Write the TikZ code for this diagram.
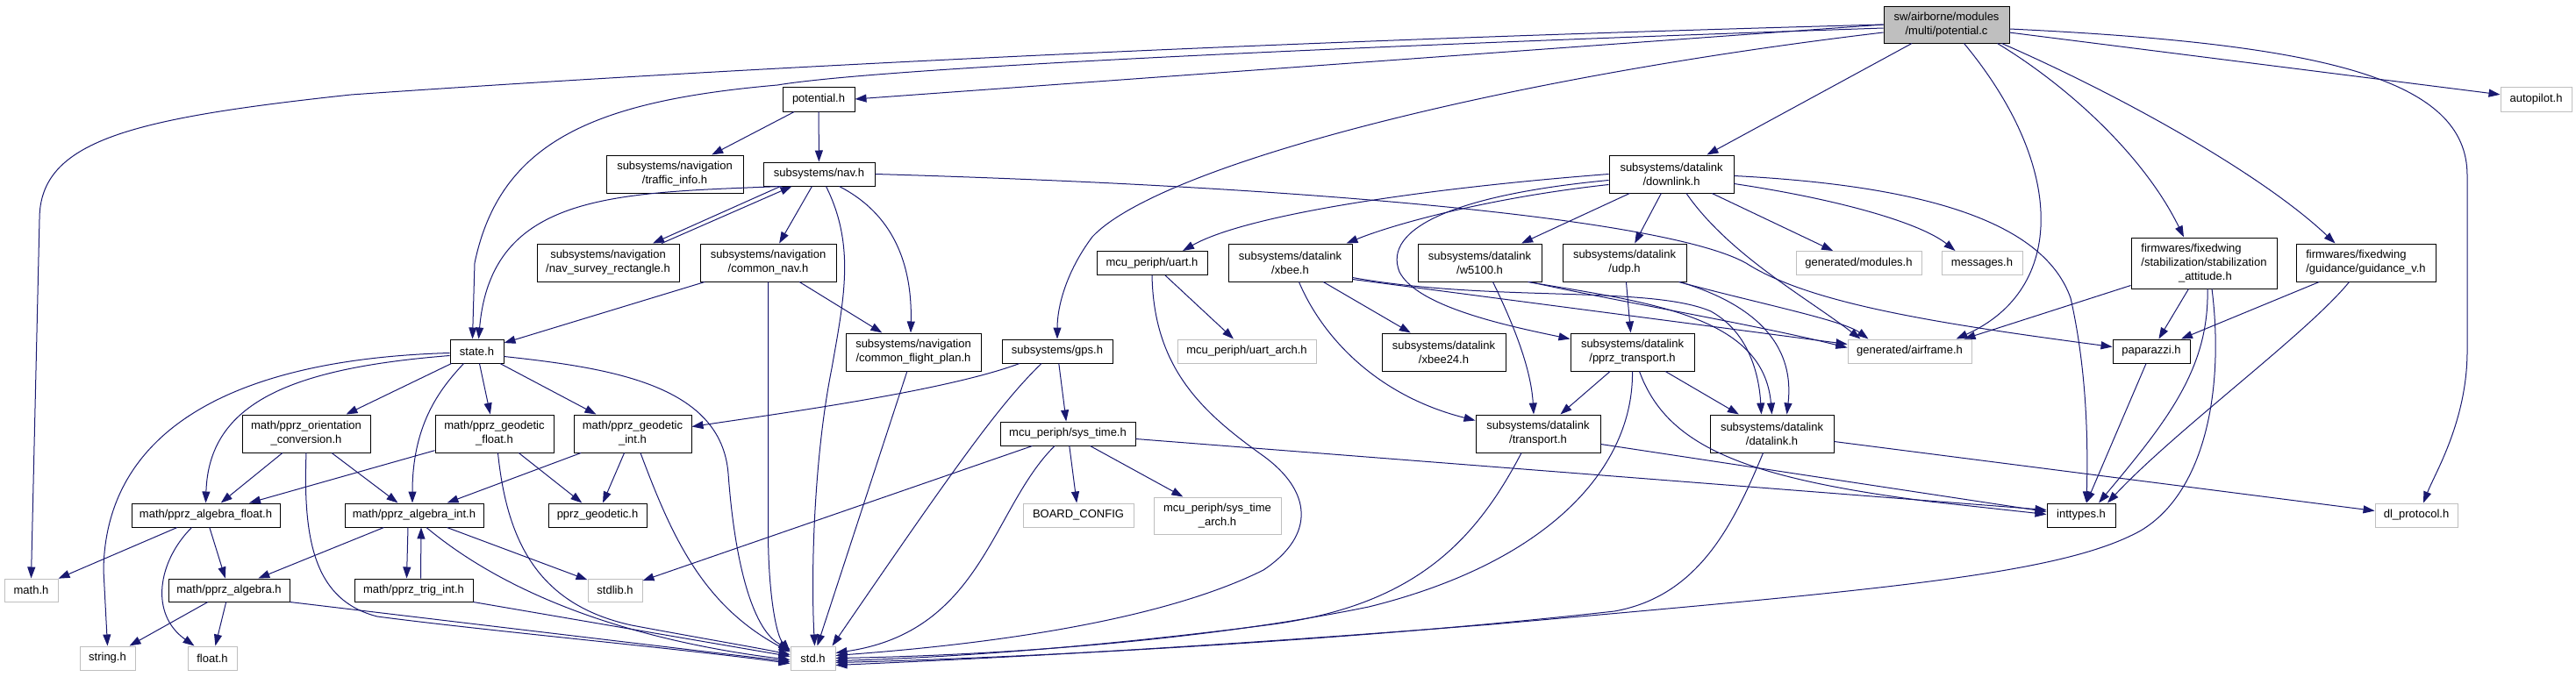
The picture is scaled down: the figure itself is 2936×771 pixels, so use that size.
\documentclass[tikz,border=0pt]{standalone}
\usepackage{fontspec}
\newfontfamily\dfont{Liberation Sans}
\usetikzlibrary{arrows.meta,calc}
\definecolor{edgec}{HTML}{191970}
\definecolor{gbord}{HTML}{BFBFBF}
\tikzset{
  box/.style 2 args={draw=black, line width=0.75pt, fill=white, minimum width=#1*0.75pt, minimum height=#2*0.75pt, inner sep=0pt, align=center, font=\dfont\fontsize{9.75pt}{12pt}\selectfont},
  gbox/.style 2 args={box={#1}{#2}, draw=gbord},
  edg/.style={draw=edgec, line width=0.75pt, -{Triangle[length=9.75pt,width=6.75pt]}},
}
\begin{document}
\begin{tikzpicture}[x=0.75pt,y=-0.75pt]
\useasboundingbox (0,0) rectangle (2936,771);
% nodes
\node[box={143}{42},fill=gbord] (pc) at (2218.5,28) {sw/airborne/modules\\/multi/potential.c};
\node[box={82}{28}] (poth) at (933,113) {potential.h};
\node[gbox={81}{28}] (autop) at (2890.5,113) {autopilot.h};
\node[box={156}{43}] (traffic) at (769,198.5) {subsystems/navigation\\/traffic\_info.h};
\node[box={127}{27}] (navh) at (933.5,198.5) {subsystems/nav.h};
\node[box={142}{43}] (downl) at (1905,198.5) {subsystems/datalink\\/downlink.h};
\node[box={162}{43}] (survey) at (693,299.5) {subsystems/navigation\\/nav\_survey\_rectangle.h};
\node[box={155}{43}] (cnav) at (875.5,299.5) {subsystems/navigation\\/common\_nav.h};
\node[box={126}{27}] (uart) at (1313,300) {mcu\_periph/uart.h};
\node[box={141}{43}] (xbee) at (1470.5,299.5) {subsystems/datalink\\/xbee.h};
\node[box={141}{43}] (w51) at (1686.5,299.5) {subsystems/datalink\\/w5100.h};
\node[box={141}{43}] (udp) at (1851.5,299.5) {subsystems/datalink\\/udp.h};
\node[gbox={143}{27}] (modh) at (2118.5,300) {generated/modules.h};
\node[gbox={92}{27}] (msgh) at (2259,300) {messages.h};
\node[box={166}{58},align=left] (stab) at (2512,300) {firmwares/fixedwing\\/stabilization/stabilization\\\hspace*{31.9pt}\_attitude.h};
\node[box={159}{43},align=left] (guid) at (2696.5,299.5) {firmwares/fixedwing\\/guidance/guidance\_v.h};
\node[box={61}{27}] (state) at (543.5,400.5) {state.h};
\node[box={154}{43}] (cfp) at (1041,401.5) {subsystems/navigation\\/common\_flight\_plan.h};
\node[box={126}{27}] (gps) at (1205,400.5) {subsystems/gps.h};
\node[gbox={158}{27}] (uarch) at (1421,400.5) {mcu\_periph/uart\_arch.h};
\node[box={141}{43}] (xb24) at (1645.5,401.5) {subsystems/datalink\\/xbee24.h};
\node[box={141}{43}] (pprzt) at (1860.5,401.5) {subsystems/datalink\\/pprz\_transport.h};
\node[gbox={141}{27}] (airf) at (2176.5,400.5) {generated/airframe.h};
\node[box={88}{27}] (papa) at (2452,400.5) {paparazzi.h};
\node[box={146}{43}] (orient) at (349,494.5) {math/pprz\_orientation\\\_conversion.h};
\node[box={135}{43}] (gfloat) at (563.5,494.5) {math/pprz\_geodetic\\\_float.h};
\node[box={134}{43}] (gint) at (721,494.5) {math/pprz\_geodetic\\\_int.h};
\node[box={154}{27}] (systime) at (1217,494.5) {mcu\_periph/sys\_time.h};
\node[box={142}{43}] (transp) at (1753,494.5) {subsystems/datalink\\/transport.h};
\node[box={141}{43}] (dlink) at (2019.5,494.5) {subsystems/datalink\\/datalink.h};
\node[box={169}{27}] (afloat) at (234.5,587.5) {math/pprz\_algebra\_float.h};
\node[box={158}{27}] (aint) at (472,587.5) {math/pprz\_algebra\_int.h};
\node[box={112}{27}] (pgeo) at (681,587.5) {pprz\_geodetic.h};
\node[gbox={126}{27}] (board) at (1229,587.5) {BOARD\_CONFIG};
\node[gbox={145}{42}] (starch) at (1387.5,588) {mcu\_periph/sys\_time\\\_arch.h};
\node[box={78}{27}] (intt) at (2372,587.5) {inttypes.h};
\node[gbox={94}{27}] (dlp) at (2754,587.5) {dl\_protocol.h};
\node[gbox={61}{26}] (mathh) at (35.5,673) {math.h};
\node[box={138}{26}] (alg) at (261,673) {math/pprz\_algebra.h};
\node[box={135}{26}] (trig) at (471.5,673) {math/pprz\_trig\_int.h};
\node[gbox={62}{26}] (stdlib) at (701,673) {stdlib.h};
\node[gbox={63}{27}] (strh) at (122.5,750.5) {string.h};
\node[gbox={56}{27}] (floath) at (242,750.5) {float.h};
\node[gbox={51}{27}] (stdh) at (926.5,750.5) {std.h};
% edges from potential.c
\draw[edg] (pc.west) .. controls (1400,48) and (800,80) .. (400,108) .. controls (150,135) and (45,160) .. (45,250) -- (mathh.north);
\draw[edg] ($(pc.west)+(0,4)$) .. controls (1500,54) and (1000,78) .. (886,97) .. controls (680,115) and (570,160) .. (541,300) -- ($(state.north)+(-5,0)$);
\draw[edg] (pc.west) -- (poth.east);
\draw[edg] ($(pc.west)+(0,9)$) .. controls (1700,90) and (1320,190) .. (1245,270) .. controls (1215,310) and (1205,350) .. (gps.north);
\draw[edg] (pc) -- (downl);
\draw[edg] ($(pc.south)+(20,0)$) .. controls (2355,190) and (2355,330) .. ($(airf.north east)+(-18,0)$);
\draw[edg] ($(pc.south east)+(-14,0)$) .. controls (2360,100) and (2445,180) .. ($(stab.north)+(-23,0)$);
\draw[edg] ($(pc.south east)+(-9,0)$) .. controls (2420,110) and (2580,200) .. ($(guid.north)+(-35,0)$);
\draw[edg] (pc) -- (autop);
\draw[edg] ($(pc.east)+(0,5)$) .. controls (2650,50) and (2812,90) .. (2812,200) -- (2812,400) .. controls (2812,480) and (2775,540) .. ($(dlp.north)+(8,0)$);
% potential.h
\draw[edg] (poth) -- (traffic);
\draw[edg] (poth) -- (navh);
% nav.h
\draw[edg] ($(navh.south)+(-43,0)$) .. controls (700,220) and (560,220) .. ($(state.north)+(2,0)$);
\draw[edg] ($(navh.south)+(-44,0)$) -- ($(survey.north)+(51,0)$);
\draw[edg] ($(survey.north)+(61,0)$) -- ($(navh.south)+(-31,0)$);
\draw[edg] (navh) -- (cnav);
\draw[edg] ($(navh.south)+(8,0)$) .. controls (975,280) and (962,340) .. (948,420) .. controls (928,520) and (924,650) .. ($(stdh.north)+(2,0)$);
\draw[edg] ($(navh.south)+(23,0)$) .. controls (1010,240) and (1040,290) .. ($(cfp.north)+(-3,0)$);
\draw[edg] (navh.east) .. controls (1500,213) and (1900,250) .. (1990,300) .. controls (2060,345) and (2200,368) .. ($(papa.west)+(0,-5)$);
% common_nav
\draw[edg] (cnav) -- (state);
\draw[edg] (cnav.south) -- (875.5,610) .. controls (876,680) and (885,725) .. ($(stdh.west)+(0,-8)$);
\draw[edg] (cnav) -- (cfp);
\draw[edg] (cfp) -- ($(stdh.north)+(5,0)$);
% gps
\draw[edg] ($(gps.south)+(-43,0)$) .. controls (1080,445) and (900,470) .. ($(gint.east)+(0,-8)$);
\draw[edg] ($(gps.south)+(-18,0)$) .. controls (1140,460) and (1090,530) .. ($(stdh.north east)+(-4,0)$);
\draw[edg] (gps) -- (systime);
% sys_time
\draw[edg] (systime) -- (stdlib);
\draw[edg] ($(systime.south)+(-15,0)$) .. controls (1130,580) and (1120,720) .. ($(stdh.east)+(0,-6)$);
\draw[edg] (systime) -- (board);
\draw[edg] (systime) -- (starch);
\draw[edg] ($(systime.east)+(0,6)$) -- ($(intt.west)+(0,-6)$);
% uart
\draw[edg] (uart) -- (uarch);
\draw[edg] (uart.south) .. controls (1315,420) and (1370,470) .. (1440,520) .. controls (1495,560) and (1500,610) .. (1440,650) .. controls (1300,720) and (1050,740) .. ($(stdh.east)+(0,-3)$);
% downlink
\draw[edg] (downl.west) .. controls (1620,215) and (1420,245) .. ($(uart.north)+(35,0)$);
\draw[edg] ($(downl.west)+(0,7)$) .. controls (1660,222) and (1575,260) .. (1595,310) .. controls (1615,350) and (1720,372) .. ($(pprzt.west)+(0,-15)$);
\draw[edg] ($(downl.west)+(0,12)$) .. controls (1700,225) and (1590,255) .. ($(xbee.north)+(64,0)$);
\draw[edg] (downl) -- (w51);
\draw[edg] (downl) -- (udp);
\draw[edg] ($(downl.south)+(17,0)$) .. controls (1970,290) and (2060,340) .. ($(airf.north west)+(15,0)$);
\draw[edg] (downl) -- (modh);
\draw[edg] ($(downl.east)+(0,2)$) .. controls (2200,212) and (2330,255) .. (2360,340) .. controls (2378,420) and (2380,500) .. ($(intt.north)+(6,0)$);
\draw[edg] ($(downl.east)+(0,11)$) .. controls (2100,228) and (2190,255) .. ($(msgh.north west)+(16,0)$);
% xbee
\draw[edg] (xbee) -- (xb24);
\draw[edg] ($(xbee.south)+(10,0)$) .. controls (1505,380) and (1565,450) .. ($(transp.west)+(0,-15)$);
\draw[edg] ($(xbee.south east)+(0,-3)$) -- ($(airf.west)+(0,-8)$);
\draw[edg] ($(xbee.south east)+(0,-5)$) .. controls (1700,345) and (1880,325) .. (1950,355) .. controls (1995,380) and (2005,430) .. ($(dlink.north)+(-12,0)$);
% w5100
\draw[edg] ($(w51.south)+(15,0)$) .. controls (1725,370) and (1745,420) .. ($(transp.north)+(-5,0)$);
\draw[edg] ($(w51.south east)+(-14,0)$) .. controls (1850,345) and (2000,370) .. ($(airf.west)+(0,-4)$);
\draw[edg] ($(w51.south east)+(-16,0)$) .. controls (1880,345) and (2010,360) .. (dlink.north);
% udp
\draw[edg] (udp) -- (pprzt);
\draw[edg] ($(udp.south east)+(-9,0)$) .. controls (2000,345) and (2100,365) .. ($(airf.north west)+(24,0)$);
\draw[edg] ($(udp.south east)+(-8,0)$) .. controls (2010,350) and (2045,400) .. ($(dlink.north)+(17,0)$);
% pprz_transport
\draw[edg] (pprzt) -- (transp);
\draw[edg] (pprzt) -- (dlink);
\draw[edg] (pprzt.south) .. controls (1862,530) and (1770,640) .. (1560,692) .. controls (1350,735) and (1100,748) .. (stdh.east);
\draw[edg] ($(pprzt.south)+(8,0)$) .. controls (1900,510) and (1990,545) .. (2200,572) -- ($(intt.west)+(0,-1)$);
% transport
\draw[edg] ($(transp.south)+(-19,0)$) .. controls (1680,620) and (1610,690) .. (1450,712) .. controls (1250,738) and (1080,750) .. ($(stdh.east)+(0,3)$);
\draw[edg] ($(transp.east)+(0,12)$) -- ($(intt.west)+(0,-4)$);
% datalink
\draw[edg] ($(dlink.south)+(-10,0)$) .. controls (1975,600) and (1935,680) .. (1840,697) .. controls (1500,735) and (1100,752) .. ($(stdh.east)+(0,5)$);
\draw[edg] ($(dlink.east)+(0,9)$) -- ($(dlp.west)+(0,-5)$);
% stabilization
\draw[edg] ($(stab.south west)+(0,-4)$) -- ($(airf.north east)+(-9,0)$);
\draw[edg] (stab) -- (papa);
\draw[edg] ($(stab.south)+(4,0)$) .. controls (2518,420) and (2470,480) .. ($(intt.north)+(20,0)$);
\draw[edg] ($(stab.south)+(9,0)$) .. controls (2535,440) and (2515,560) .. (2440,605) .. controls (2350,655) and (2150,672) .. (1700,712) .. controls (1350,740) and (1100,752) .. ($(stdh.east)+(0,8)$);
% guidance
\draw[edg] (guid) -- (papa);
\draw[edg] ($(guid.south)+(-19,0)$) .. controls (2630,380) and (2480,490) .. ($(intt.north)+(30,0)$);
\draw[edg] (papa) -- (intt);
% state
\draw[edg] (state) -- (orient);
\draw[edg] ($(state.south)+(-15,0)$) .. controls (505,440) and (470,480) .. ($(aint.north)+(-2,0)$);
\draw[edg] (state) -- (gfloat);
\draw[edg] (state) -- (gint);
\draw[edg] ($(state.west)+(0,5)$) .. controls (330,420) and (238,460) .. (afloat.north);
\draw[edg] ($(state.west)+(0,2)$) .. controls (250,410) and (120,500) .. (118,650) -- (strh.north);
\draw[edg] ($(state.east)+(0,6)$) .. controls (700,420) and (822,440) .. (830,540) .. controls (838,650) and (860,720) .. ($(stdh.west)+(0,-10)$);
% orientation
\draw[edg] (orient) -- (afloat);
\draw[edg] (orient) -- (aint);
\draw[edg] (orient.south) .. controls (345,620) and (360,685) .. (430,703) .. controls (560,720) and (780,740) .. ($(stdh.west)+(0,6)$);
% geodetic float
\draw[edg] (gfloat) -- (afloat);
\draw[edg] (gfloat) -- (pgeo);
\draw[edg] ($(gfloat.south)+(4,0)$) .. controls (578,620) and (615,690) .. (720,713) .. controls (800,728) and (860,738) .. ($(stdh.west)+(0,-4)$);
% geodetic int
\draw[edg] (gint) -- (aint);
\draw[edg] (gint) -- (pgeo);
\draw[edg] ($(gint.south)+(9,0)$) .. controls (765,610) and (800,690) .. ($(stdh.west)+(0,-7)$);
% algebra float
\draw[edg] (afloat) -- (mathh);
\draw[edg] (afloat) -- (alg);
\draw[edg] ($(afloat.south)+(-16,0)$) .. controls (180,640) and (170,700) .. ($(floath.north west)+(8,0)$);
% algebra int
\draw[edg] (aint) -- (alg);
\draw[edg] ($(aint.south)+(-7,0)$) -- ($(trig.north)+(-8,0)$);
\draw[edg] ($(trig.north)+(8,0)$) -- ($(aint.south)+(8,0)$);
\draw[edg] (aint) -- (stdlib);
\draw[edg] ($(aint.south)+(14,0)$) .. controls (580,680) and (720,730) .. ($(stdh.west)+(0,2)$);
% algebra
\draw[edg] (alg) -- (strh);
\draw[edg] (alg) -- (floath);
\draw[edg] (alg.south east) -- ($(stdh.west)+(0,4)$);
\draw[edg] (trig.south east) -- ($(stdh.west)+(0,-2)$);
\end{tikzpicture}
\end{document}
